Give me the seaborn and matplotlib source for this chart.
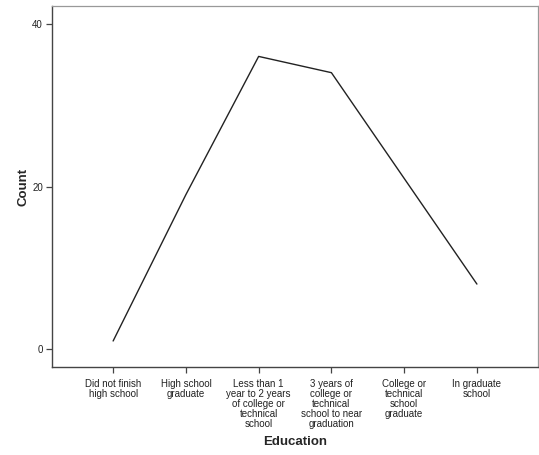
import matplotlib
matplotlib.use("Agg")
import matplotlib.pyplot as plt
import seaborn as sns
import pandas as pd

# categories (with the line breaks used in the chart)
education = [
    "Did not finish\nhigh school",
    "High school\ngraduate",
    "Less than 1\nyear to 2 years\nof college or\ntechnical\nschool",
    "3 years of\ncollege or\ntechnical\nschool to near\ngraduation",
    "College or\ntechnical\nschool\ngraduate",
    "In graduate\nschool",
]
counts = [1, 19, 36, 34, 21, 8]

df = pd.DataFrame({"Education": education, "Count": counts})

sns.set_style("white")
plt.rcParams["font.family"] = ["Liberation Sans", "DejaVu Sans"]

fig = plt.figure(figsize=(5.39, 4.55), dpi=100)
ax = fig.add_axes([0.0965, 0.1934, 0.9017, 0.7934])

sns.lineplot(data=df, x="Education", y="Count", sort=False, color="#222222",
             linewidth=1.0, ax=ax)

ax.set_xlim(-0.84, 5.84)
ax.set_ylim(-2.2, 42.2)
ax.set_yticks([0, 20, 40])

for side in ["top", "right"]:
    ax.spines[side].set_color("#999999")
    ax.spines[side].set_linewidth(0.9)
for side in ["left", "bottom"]:
    ax.spines[side].set_color("#444444")
    ax.spines[side].set_linewidth(1.0)

ax.tick_params(axis="both", which="major", direction="out", length=4.5,
               width=0.9, color="#444444", labelsize=7, labelcolor="#222222",
               bottom=True, left=True, pad=2)
ax.tick_params(axis="x", pad=4)
for lbl in ax.get_xticklabels():
    lbl.set_linespacing(1.0)

ax.set_xlabel("Education", fontsize=9.5, fontweight="bold", labelpad=5)
ax.set_ylabel("Count", fontsize=9.5, fontweight="bold", labelpad=2)

fig.savefig("out.png", dpi=100)
